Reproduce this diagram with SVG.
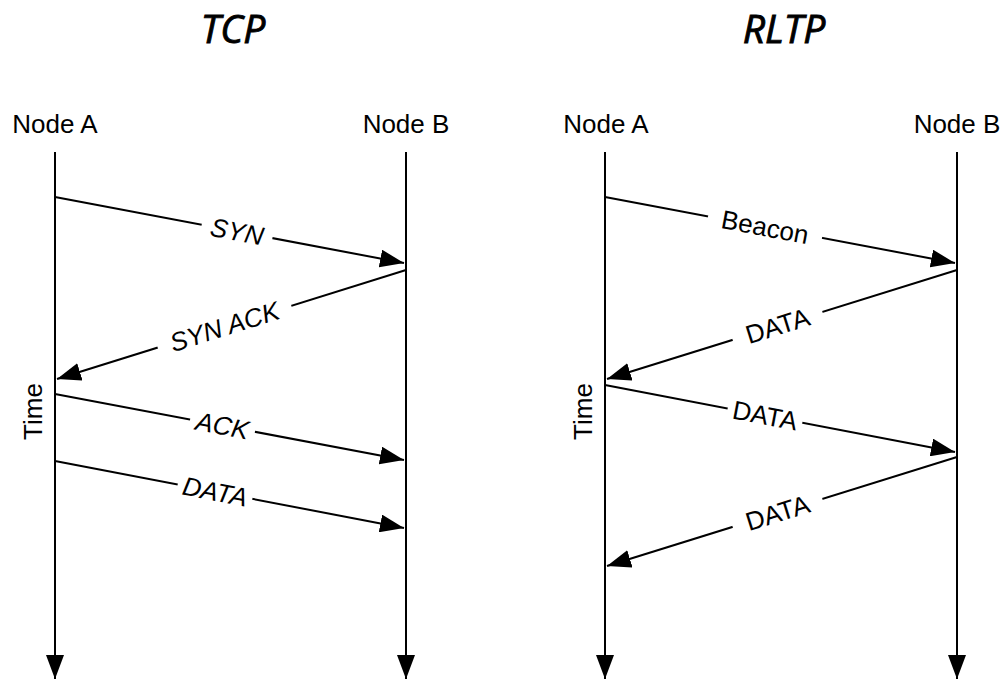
<svg xmlns="http://www.w3.org/2000/svg" width="1006" height="679" viewBox="0 0 1006 679">
<style>
.title{font-family:"Open Sans",sans-serif;font-style:italic;font-weight:normal;font-size:39px;text-anchor:middle;fill:#000;stroke:#000;stroke-width:0.9}
.node{font-family:"Liberation Sans",Arial,sans-serif;font-size:26px;text-anchor:middle;fill:#000}
.lbl{font-family:"Liberation Sans",Arial,sans-serif;font-size:26px;text-anchor:middle;fill:#000}
.it{font-style:italic}
.life{stroke:#000;stroke-width:2;fill:none;marker-end:url(#ah)}
.msg{stroke:#000;stroke-width:2;fill:none;marker-end:url(#ah)}
.bg{fill:#fff}
</style>
<defs>
<marker id="ah" markerUnits="userSpaceOnUse" markerWidth="24" markerHeight="18" refX="24" refY="9" orient="auto">
<path d="M0,0 L24,9 L0,18 z" fill="#000"/>
</marker>
</defs>
<rect width="1006" height="679" fill="#fff"/>
<g id="title-tcp"><text class="title" x="233" y="43">TCP</text></g>
<g id="title-rltp"><text class="title" x="784" y="43">RLTP</text></g>

<g id="tcp-node-a">
<text class="node" x="55" y="133">Node A</text>
<line class="life" x1="55" y1="152" x2="55" y2="679"/>
</g>
<g id="tcp-node-b">
<text class="node" x="406" y="133">Node B</text>
<line class="life" x1="406" y1="152" x2="406" y2="679"/>
</g>
<g id="rltp-node-a">
<text class="node" x="606" y="133">Node A</text>
<line class="life" x1="605" y1="152" x2="605" y2="679"/>
</g>
<g id="rltp-node-b">
<text class="node" x="957" y="133">Node B</text>
<line class="life" x1="957" y1="152" x2="957" y2="679"/>
</g>
<text class="node" transform="translate(42,411.5) rotate(-90)" x="0" y="0">Time</text>
<text class="node" transform="translate(592,411.5) rotate(-90)" x="0" y="0">Time</text>

<g id="connectors">
<line class="msg" x1="55" y1="197" x2="404" y2="263"/>
<line class="msg" x1="406" y1="270" x2="57" y2="379"/>
<line class="msg" x1="55" y1="394" x2="404" y2="460"/>
<line class="msg" x1="55" y1="461" x2="404" y2="528"/>
<line class="msg" x1="605" y1="197" x2="955" y2="263"/>
<line class="msg" x1="957" y1="270" x2="607" y2="379"/>
<line class="msg" x1="605" y1="385" x2="955" y2="452"/>
<line class="msg" x1="957" y1="457" x2="607" y2="566"/>

<g transform="translate(237,231.6) rotate(10.71)"><rect class="bg" x="-36" y="-15" width="72" height="30"/><text class="lbl it" x="0" y="9">SYN</text></g>
<g transform="translate(224.5,326.7) rotate(-17.34)"><rect class="bg" x="-70" y="-15" width="140" height="30"/><text class="lbl it" x="0" y="9">SYN ACK</text></g>
<g transform="translate(222.5,425.7) rotate(10.71)"><rect class="bg" x="-33" y="-15" width="66" height="30"/><text class="lbl it" x="0" y="9">ACK</text></g>
<g transform="translate(215,491.7) rotate(10.87)"><rect class="bg" x="-38" y="-15" width="76" height="30"/><text class="lbl it" x="0" y="9">DATA</text></g>
<g transform="translate(765,227.2) rotate(10.68)"><rect class="bg" x="-58" y="-15" width="116" height="30"/><text class="lbl" x="0" y="9">Beacon</text></g>
<g transform="translate(777.5,325.9) rotate(-17.3)"><rect class="bg" x="-47" y="-15" width="94" height="30"/><text class="lbl" x="0" y="9">DATA</text></g>
<g transform="translate(765,415.6) rotate(10.84)"><rect class="bg" x="-38" y="-15" width="76" height="30"/><text class="lbl" x="0" y="9">DATA</text></g>
<g transform="translate(777.5,512.9) rotate(-17.3)"><rect class="bg" x="-47" y="-15" width="94" height="30"/><text class="lbl" x="0" y="9">DATA</text></g>
</g>
</svg>
